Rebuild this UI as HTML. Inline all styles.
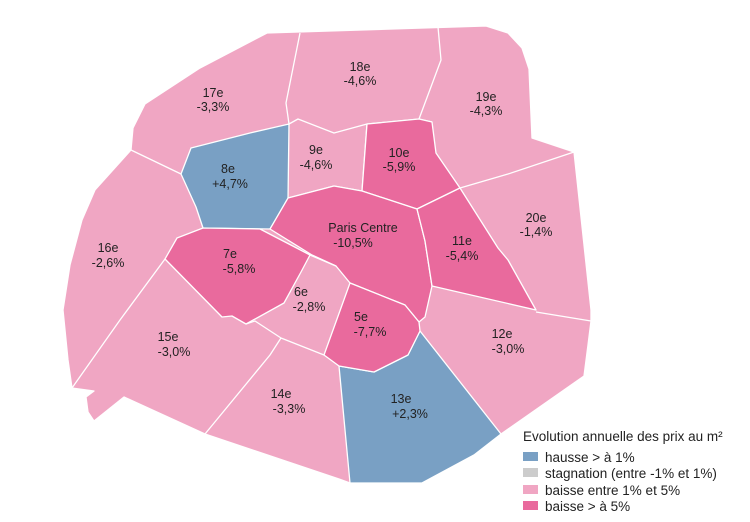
<!DOCTYPE html>
<html><head><meta charset="utf-8"><style>
html,body{margin:0;padding:0;background:#fff;}
svg{display:block;font-family:"Liberation Sans","DejaVu Sans",sans-serif;}
</style></head><body>
<svg width="750" height="522" viewBox="0 0 750 522" xmlns="http://www.w3.org/2000/svg">
<g stroke="#fff" stroke-width="1.3" stroke-linejoin="round">
<path fill="#f0a6c3" d="M267,33 L486,26 L508,33 L522,48 L529,69 L532,138 L574,152 L591,310 L591,321 L588,345 L584,376 L501,434 L474,455 L422,483 L350,483 L339,479 L205,434 L124,397 L94,421 L88,412 L86,397 L94,391 L72,388 L68,360 L63,310 L70,265 L82,220 L95,190 L131,150 L133,128 L145,104 L200,68 Z"/>
<g fill="none">
<path d="M300,33 L286,103 L289,124"/>
<path d="M438,27 L441,60 L419,119"/>
<path d="M289,124 L298,119 L334,133 L367,124 L419,119 L432,122"/>
<path d="M131,150 L181,174"/>
<path d="M367,124 L362,191"/>
<path d="M288,198 L334,186 L362,191"/>
<path d="M460,188 L508,174 L574,152"/>
<path d="M536,312 L591,321"/>
<path d="M281,338 L270,355 L205,434"/>
<path d="M165,259 L120,320 L72,388"/>
</g>
<path fill="#79a0c4" d="M181,174 L191,148 L250,133 L289,124 L288,200 L270,229 L203,228 L196,207 Z"/>
<path fill="#79a0c4" d="M420,331 L501,434 L474,455 L422,483 L350,483 L339,366 L374,372 L408,355 Z"/>
<path fill="#e96a9d" d="M367,124 L419,119 L432,122 L436,153 L460,188 L417,209 L362,191 Z"/>
<path fill="#e96a9d" d="M270,229 L288,198 L334,186 L362,191 L417,209 L425,241 L432,286 L425,317 L419,322 L405,305 L350,283 L336,266 L312,255 Z"/>
<path fill="#e96a9d" d="M417,209 L460,188 L498,248 L508,260 L536,310 L432,286 L425,241 Z"/>
<path fill="#e96a9d" d="M350,283 L405,305 L419,322 L420,331 L408,355 L374,372 L339,366 L324,355 Z"/>
<path fill="#e96a9d" d="M165,259 L177,238 L203,228 L260,229 L310,255 L301,272 L284,303 L246,324 L232,316 L222,317 Z"/>
<path fill="none" d="M310,255 L336,266 M324,355 L281,338 L255,321 L246,324"/>
</g>
<g font-size="12.5" fill="#222" text-anchor="middle">
<text x="213" y="97">17e</text><text x="213" y="111">-3,3%</text>
<text x="360" y="71">18e</text><text x="360" y="85">-4,6%</text>
<text x="486" y="101">19e</text><text x="486" y="115">-4,3%</text>
<text x="316" y="154">9e</text><text x="316" y="169">-4,6%</text>
<text x="399" y="157">10e</text><text x="399" y="171">-5,9%</text>
<text x="228" y="173">8e</text><text x="230" y="188">+4,7%</text>
<text x="536" y="222">20e</text><text x="536" y="236">-1,4%</text>
<text x="363" y="232">Paris Centre</text><text x="353" y="247">-10,5%</text>
<text x="462" y="245">11e</text><text x="462" y="260">-5,4%</text>
<text x="108" y="252">16e</text><text x="108" y="267">-2,6%</text>
<text x="230" y="258">7e</text><text x="239" y="273">-5,8%</text>
<text x="301" y="296">6e</text><text x="309" y="311">-2,8%</text>
<text x="361" y="321">5e</text><text x="370" y="336">-7,7%</text>
<text x="502" y="338">12e</text><text x="508" y="353">-3,0%</text>
<text x="168" y="341">15e</text><text x="174" y="356">-3,0%</text>
<text x="281" y="398">14e</text><text x="289" y="413">-3,3%</text>
<text x="401" y="403">13e</text><text x="410" y="418">+2,3%</text>
</g>
<g font-size="13.5" fill="#222">
<text x="523" y="441">Evolution annuelle des prix au m²</text>
<rect x="523" y="452" width="15" height="9" fill="#79a0c4"/><text x="545" y="462">hausse &gt; à 1%</text>
<rect x="523" y="468" width="15" height="9" fill="#cccccc"/><text x="545" y="478">stagnation (entre -1% et 1%)</text>
<rect x="523" y="485" width="15" height="9" fill="#f0a6c3"/><text x="545" y="495">baisse entre 1% et 5%</text>
<rect x="523" y="501" width="15" height="9" fill="#e96a9d"/><text x="545" y="511">baisse &gt; à 5%</text>
</g>
</svg>
</body></html>
